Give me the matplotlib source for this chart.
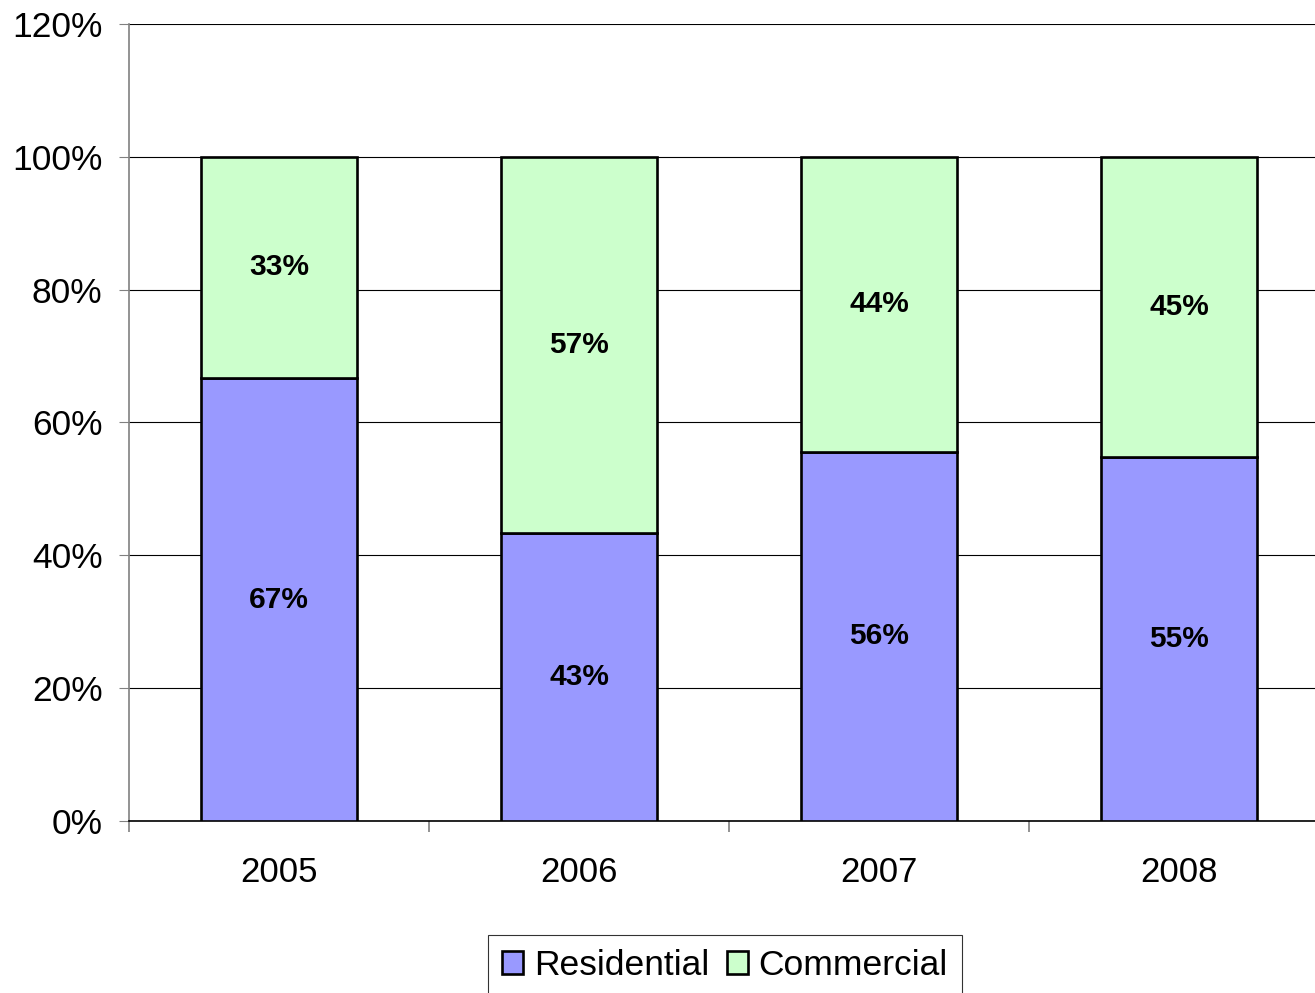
import numpy as np
import matplotlib.pyplot as plt
from matplotlib.ticker import FuncFormatter, FixedLocator

years = ["2005", "2006", "2007", "2008"]
residential = [66.7, 43.4, 55.6, 54.8]
commercial = [33.3, 56.6, 44.4, 45.2]

plt.rcParams['font.family'] = ['Liberation Sans', 'DejaVu Sans']

fig = plt.figure(figsize=(13.15, 9.93), dpi=100)
# axes runs slightly past the right edge, like the original
ax = fig.add_axes([129 / 1315, 1 - 821 / 993, 1200 / 1315, 797 / 993])

x = np.arange(len(years))
w = 0.523
b1 = ax.bar(x, residential, w, color='#9999FF', edgecolor='black', linewidth=1.9,
            label='Residential', zorder=3)
b2 = ax.bar(x, commercial, w, bottom=residential, color='#CCFFCC', edgecolor='black',
            linewidth=1.9, label='Commercial', zorder=3)

for i in range(len(years)):
    ax.text(x[i], residential[i] / 2, f"{residential[i]:.0f}%", ha='center', va='center',
            fontsize=21.5, fontweight='bold', zorder=4)
    ax.text(x[i], residential[i] + commercial[i] / 2, f"{commercial[i]:.0f}%", ha='center',
            va='center', fontsize=21.5, fontweight='bold', zorder=4)

ax.set_xlim(-0.5, 3.5)
ax.set_ylim(0, 120)
ax.set_yticks(np.arange(0, 121, 20))
ax.yaxis.set_major_formatter(FuncFormatter(lambda v, p: f"{v:.0f}%"))
ax.grid(axis='y', color='black', linewidth=0.8, zorder=0)
ax.tick_params(axis='y', labelsize=25.5, length=7, width=0.8, color='#808080', pad=12)

# category boundaries get the ticks, labels sit at the centres
ax.xaxis.set_major_locator(FixedLocator([-0.5, 0.5, 1.5, 2.5, 3.5]))
ax.set_xticklabels([])
ax.xaxis.set_minor_locator(FixedLocator(x))
ax.set_xticklabels(years, minor=True)
ax.tick_params(axis='x', which='major', length=8, width=1.2, color='#808080')
ax.tick_params(axis='x', which='minor', length=0, labelsize=25, pad=25)

for s in ['top', 'right']:
    ax.spines[s].set_visible(False)
ax.spines['left'].set_color('#808080')
ax.spines['left'].set_linewidth(1.2)
ax.spines['bottom'].set_color('black')
ax.spines['bottom'].set_linewidth(1.2)

leg = fig.legend(handles=[b1, b2], loc='upper center', bbox_to_anchor=(725 / 1315, 1 - 935 / 993),
                 ncol=2, fontsize=25.5, frameon=True, fancybox=False, edgecolor='black',
                 handlelength=0.6, handleheight=0.6, handletextpad=0.3, columnspacing=0.5,
                 borderpad=0.4, borderaxespad=0)
leg.get_frame().set_linewidth(0.8)

fig.savefig('out.png', dpi=100)
